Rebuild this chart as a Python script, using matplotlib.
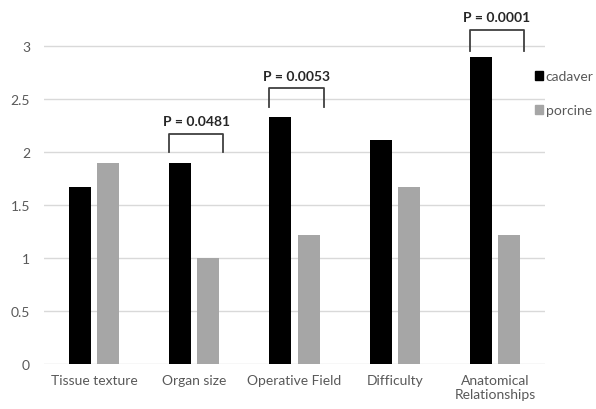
import matplotlib
matplotlib.use("Agg")
import matplotlib.pyplot as plt
from matplotlib.patches import Patch
import numpy as np

plt.rcParams['font.family'] = ['Lato', 'DejaVu Sans']

# data
categories = ["Tissue texture", "Organ size", "Operative Field", "Difficulty",
              "Anatomical\nRelationships"]
cadaver = [1.67, 1.89, 2.33, 2.11, 2.89]
porcine = [1.89, 1.0, 1.22, 1.67, 1.22]

# significance brackets: category index, p-value text, bracket bottom / top
sig_idx = [1, 2, 4]
sig_text = ["P = 0.0481", "P = 0.0053", "P = 0.0001"]
sig_low = [2.0, 2.42, 2.95]
sig_high = [2.17, 2.6, 3.15]

fig = plt.figure(figsize=(5.96, 4.10), dpi=100)
ax = fig.add_axes([44 / 596, 45 / 410, 501 / 596, 360.7 / 410])

x = np.arange(len(categories))
w = 0.22
ax.bar(x - 0.14, cadaver, w, color="#000000", zorder=3)
ax.bar(x + 0.14, porcine, w, color="#a6a6a6", zorder=3)

ax.set_xlim(-0.5, len(categories) - 0.5)
ax.set_ylim(0, 3.4)
ax.set_yticks([0, 0.5, 1, 1.5, 2, 2.5, 3])
ax.set_yticklabels(["0", "0.5", "1", "1.5", "2", "2.5", "3"])
ax.set_xticks(x)
ax.set_xticklabels(categories, linespacing=1.25)
ax.tick_params(axis="both", length=0, labelsize=10, colors="#595959")
ax.tick_params(axis="y", pad=10)
ax.tick_params(axis="x", pad=7)

for yv in [0, 0.5, 1, 1.5, 2, 2.5, 3]:
    ax.axhline(yv, color="#d9d9d9", lw=1, zorder=1)
for s in ax.spines.values():
    s.set_visible(False)

for i, t, lo, hi in zip(sig_idx, sig_text, sig_low, sig_high):
    ax.plot([i - 0.25, i - 0.25, i + 0.29, i + 0.29], [lo, hi, hi, lo],
            color="#404040", lw=1.3, clip_on=False, zorder=4)
    ax.text(i + 0.02, hi + 0.06, t, ha="center", va="bottom", fontsize=10,
            color="#262626", fontweight="bold", clip_on=False)

handles = [Patch(color="#000000", label="cadaver"),
           Patch(color="#a6a6a6", label="porcine")]
leg = ax.legend(handles=handles, loc="upper left", bbox_to_anchor=(0.968, 0.83),
                frameon=False, fontsize=10, handlelength=0.6, handleheight=0.6,
                handletextpad=0.2, labelspacing=1.6, borderaxespad=0)
for t in leg.get_texts():
    t.set_color("#595959")

fig.savefig("out.png", dpi=100)
